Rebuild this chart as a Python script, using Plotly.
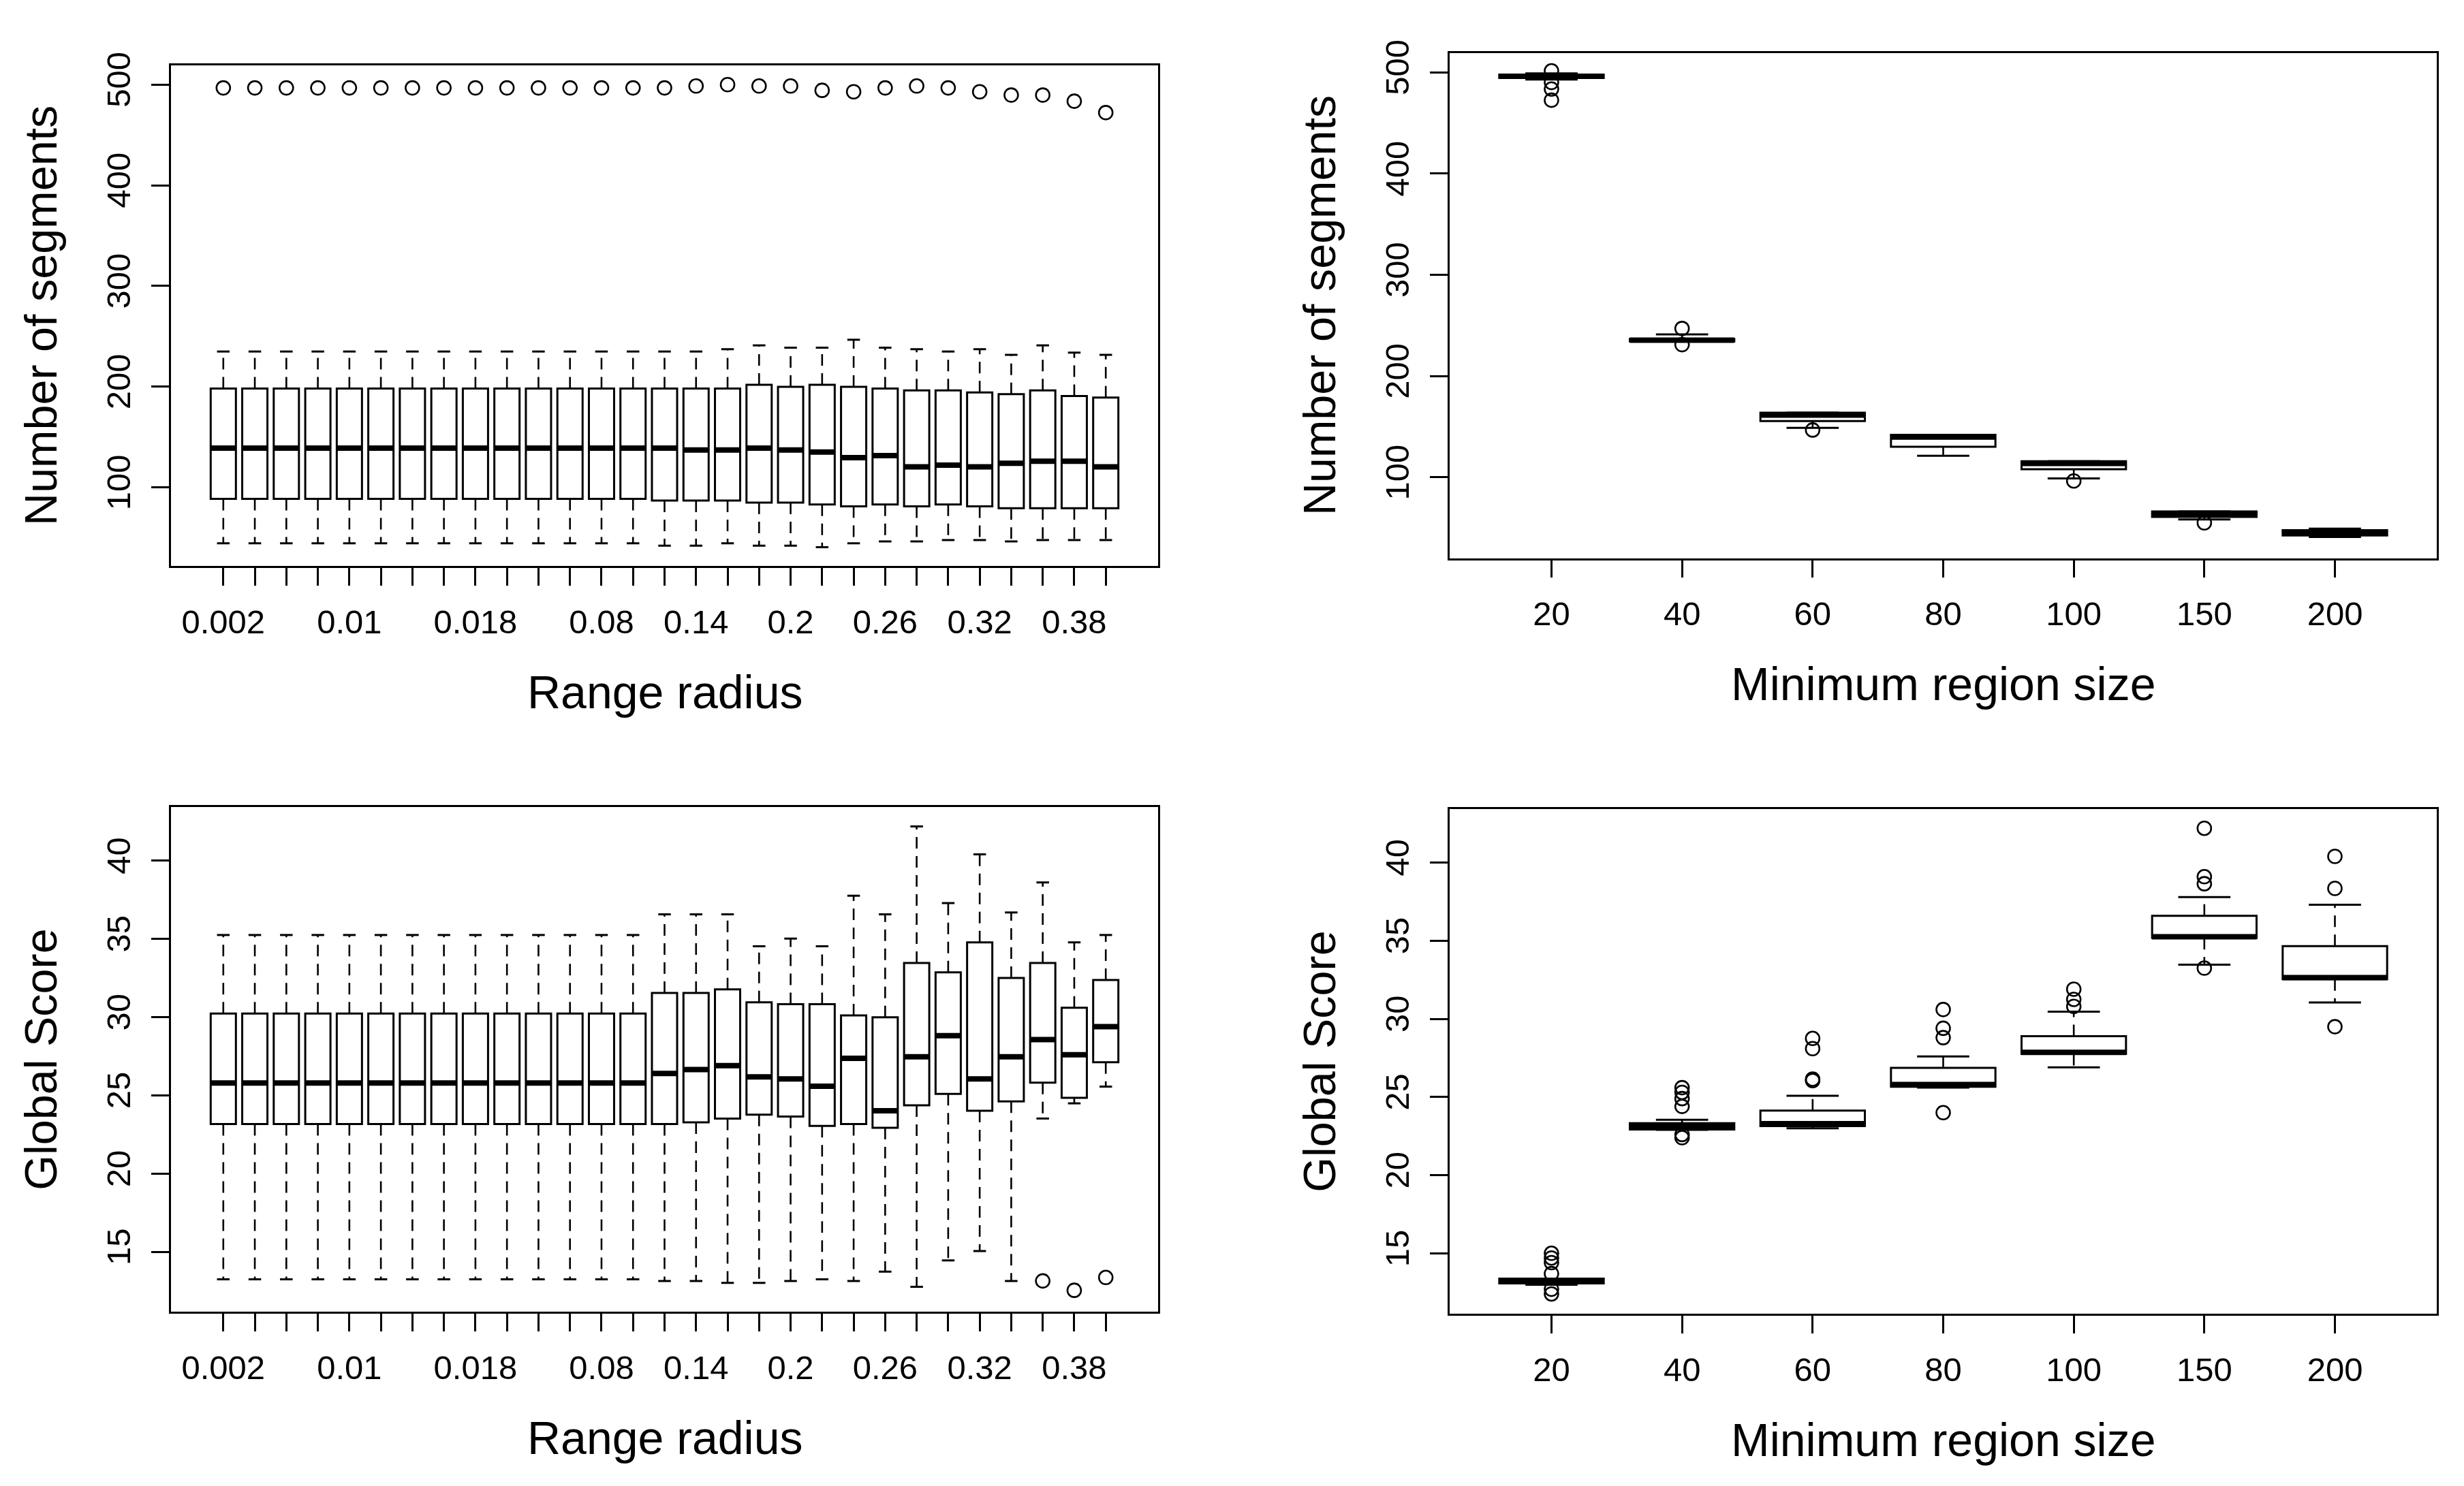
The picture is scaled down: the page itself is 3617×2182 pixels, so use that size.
import plotly.graph_objects as go

# ---------------- Data ----------------
radius_labels = ["0.002", "0.004", "0.006", "0.008", "0.01", "0.012", "0.014", "0.016",
                 "0.018", "0.02", "0.04", "0.06", "0.08", "0.1", "0.12", "0.14", "0.16",
                 "0.18", "0.2", "0.22", "0.24", "0.26", "0.28", "0.3", "0.32", "0.34",
                 "0.36", "0.38", "0.4"]
radius_shown = ["0.002", "0.01", "0.018", "0.08", "0.14", "0.2", "0.26", "0.32", "0.38"]

size_labels = ["20", "40", "60", "80", "100", "150", "200"]

# Number of segments vs range radius
seg_r_lo = [44.4, 44.4, 44.4, 44.4, 44.4, 44.4, 44.4, 44.4, 44.4, 44.4, 44.4, 44.4, 44.4, 44.4,
            42.1, 42.1, 44.4, 42.1, 42.1, 40.6, 44.4, 46.2, 46.2, 47.7, 47.7, 46.2, 47.7, 47.7, 47.7]
seg_r_q1 = [88.6, 88.6, 88.6, 88.6, 88.6, 88.6, 88.6, 88.6, 88.6, 88.6, 88.6, 88.6, 88.6, 88.6,
            86.8, 86.8, 86.8, 84.8, 84.8, 83.0, 81.2, 83.0, 81.2, 83.0, 81.2, 79.2, 79.2, 79.2, 79.2]
seg_r_med = [138.9, 138.9, 138.9, 138.9, 138.9, 138.9, 138.9, 138.9, 138.9, 138.9, 138.9, 138.9,
             138.9, 138.9, 138.9, 137.1, 137.1, 138.9, 137.1, 135.1, 129.5, 131.5, 120.3, 122.1,
             120.3, 123.9, 125.9, 125.9, 120.3]
seg_r_q3 = [198.1, 198.1, 198.1, 198.1, 198.1, 198.1, 198.1, 198.1, 198.1, 198.1, 198.1, 198.1,
            198.1, 198.1, 198.1, 198.1, 198.1, 201.9, 199.9, 201.9, 199.9, 198.1, 196.3, 196.3,
            194.3, 192.5, 196.3, 190.7, 189.1]
seg_r_hi = [234.9, 234.9, 234.9, 234.9, 234.9, 234.9, 234.9, 234.9, 234.9, 234.9, 234.9, 234.9,
            234.9, 234.9, 234.9, 234.9, 237.2, 241.0, 238.7, 238.7, 246.6, 238.7, 237.2, 234.9,
            237.2, 231.6, 241.0, 233.8, 231.6]
seg_r_out = [[496.7], [496.7], [496.7], [496.7], [496.7], [496.7], [496.7], [496.7], [496.7],
             [496.7], [496.7], [496.7], [496.7], [496.7], [496.7], [498.6], [500.0], [498.6],
             [498.6], [494.3], [492.9], [496.7], [498.6], [496.7], [492.9], [489.6], [489.6],
             [483.5], [472.2]]

# Global score vs range radius
sc_r_lo = [13.24, 13.24, 13.24, 13.24, 13.24, 13.24, 13.24, 13.24, 13.24, 13.24, 13.24, 13.24,
           13.24, 13.24, 13.14, 13.14, 13.01, 13.01, 13.14, 13.24, 13.14, 13.73, 12.76, 14.45,
           15.05, 13.14, 23.52, 24.49, 25.56]
sc_r_q1 = [23.17, 23.17, 23.17, 23.17, 23.17, 23.17, 23.17, 23.17, 23.17, 23.17, 23.17, 23.17,
           23.17, 23.17, 23.17, 23.28, 23.52, 23.77, 23.65, 23.05, 23.17, 22.93, 24.37, 25.09,
           24.02, 24.61, 25.81, 24.84, 27.12]
sc_r_med = [25.79, 25.79, 25.79, 25.79, 25.79, 25.79, 25.79, 25.79, 25.79, 25.79, 25.79, 25.79,
            25.79, 25.79, 26.40, 26.65, 26.90, 26.18, 26.05, 25.58, 27.37, 24.02, 27.47, 28.81,
            26.05, 27.47, 28.56, 27.60, 29.39]
sc_r_q3 = [30.23, 30.23, 30.23, 30.23, 30.23, 30.23, 30.23, 30.23, 30.23, 30.23, 30.23, 30.23,
           30.23, 30.23, 31.55, 31.55, 31.78, 30.95, 30.83, 30.83, 30.11, 29.99, 33.46, 32.86,
           34.78, 32.50, 33.46, 30.60, 32.37]
sc_r_hi = [35.25, 35.25, 35.25, 35.25, 35.25, 35.25, 35.25, 35.25, 35.25, 35.25, 35.25, 35.25,
           35.25, 35.25, 36.57, 36.57, 36.57, 34.53, 35.02, 34.53, 37.76, 36.57, 42.19, 37.29,
           40.40, 36.69, 38.61, 34.78, 35.25]
sc_r_out = [[], [], [], [], [], [], [], [], [], [], [], [], [], [], [], [], [], [], [], [], [],
            [], [], [], [], [], [13.14], [12.54], [13.36]]

# Number of segments vs minimum region size
seg_m_lo = [493.0, 234.2, 148.9, 121.2, 98.9, 58.3, 41.0]
seg_m_q1 = [494.5, 234.2, 155.6, 130.2, 107.9, 60.8, 42.6]
seg_m_med = [496.2, 235.5, 161.5, 139.7, 113.6, 64.0, 45.2]
seg_m_q3 = [497.8, 236.6, 163.8, 141.9, 115.8, 66.2, 47.7]
seg_m_hi = [499.0, 241.2, 163.8, 141.9, 115.8, 66.2, 49.3]
seg_m_out = [[501.5, 490.0, 483.5, 472.5], [247.0, 231.0], [146.7], [], [96.4], [55.0], []]

# Global score vs minimum region size
sc_m_lo = [12.99, 22.90, 23.00, 25.60, 26.90, 33.47, 31.05]
sc_m_q1 = [13.07, 22.92, 23.14, 25.66, 27.76, 35.18, 32.54]
sc_m_med = [13.22, 23.13, 23.29, 25.80, 27.86, 35.26, 32.64]
sc_m_q3 = [13.38, 23.33, 24.13, 26.87, 28.89, 36.60, 34.66]
sc_m_hi = [13.38, 23.54, 25.08, 27.60, 30.46, 37.79, 37.30]
sc_m_out = [[15.0, 14.7, 14.4, 13.7, 12.7, 12.4], [25.6, 25.3, 24.9, 24.4, 22.6, 22.4],
            [28.75, 28.1, 26.15, 26.05], [30.6, 29.4, 28.8, 24.0], [31.9, 31.25, 30.8],
            [42.2, 39.1, 38.65, 33.25], [40.4, 38.35, 29.5]]

seg_ticks = [100, 200, 300, 400, 500]
score_ticks = [15, 20, 25, 30, 35, 40]

# ---------------- Styling ----------------
W, H = 3617, 2182
FONT = "Liberation Sans, Arial, sans-serif"
BOXW = 0.8
CAPW = 0.4
LW = 3


def px_x(p):
    return p / W


def px_y(p):
    return 1 - p / H


fig = go.Figure()


def add_panel(k, labels, lo, q1, med, q3, hi, outs):
    xr = "x" if k == 1 else "x%d" % k
    yr = "y" if k == 1 else "y%d" % k
    pos = list(range(len(labels)))
    wx, wy = [], []
    cx, cy = [], []
    mx, my = [], []
    ox, oy = [], []
    for i in pos:
        if hi[i] > q3[i]:
            wx += [i, i, None]
            wy += [q3[i], hi[i], None]
        if lo[i] < q1[i]:
            wx += [i, i, None]
            wy += [q1[i], lo[i], None]
        cx += [i - CAPW / 2, i + CAPW / 2, None, i - CAPW / 2, i + CAPW / 2, None]
        cy += [hi[i], hi[i], None, lo[i], lo[i], None]
        mx += [i - BOXW / 2, i + BOXW / 2, None]
        my += [med[i], med[i], None]
        for v in outs[i]:
            ox.append(i)
            oy.append(v)
    fig.add_trace(go.Scatter(x=wx, y=wy, mode="lines", xaxis=xr, yaxis=yr,
                             line=dict(color="black", width=2.6, dash="17px,11px"),
                             hoverinfo="skip", showlegend=False))
    fig.add_trace(go.Scatter(x=cx, y=cy, mode="lines", xaxis=xr, yaxis=yr,
                             line=dict(color="black", width=LW),
                             hoverinfo="skip", showlegend=False))
    fig.add_trace(go.Box(x=pos, q1=q1, median=med, q3=q3, lowerfence=q1, upperfence=q3,
                         xaxis=xr, yaxis=yr, width=BOXW, whiskerwidth=0,
                         fillcolor="white", line=dict(color="black", width=LW),
                         boxpoints=False, showlegend=False, hoverinfo="skip"))
    fig.add_trace(go.Scatter(x=mx, y=my, mode="lines", xaxis=xr, yaxis=yr,
                             line=dict(color="black", width=8),
                             hoverinfo="skip", showlegend=False))
    fig.add_trace(go.Scatter(x=ox, y=oy, mode="markers", xaxis=xr, yaxis=yr,
                             marker=dict(symbol="circle-open", size=20, color="black",
                                         line=dict(width=2.6, color="black")),
                             hoverinfo="skip", showlegend=False))


add_panel(1, radius_labels, seg_r_lo, seg_r_q1, seg_r_med, seg_r_q3, seg_r_hi, seg_r_out)
add_panel(2, size_labels, seg_m_lo, seg_m_q1, seg_m_med, seg_m_q3, seg_m_hi, seg_m_out)
add_panel(3, radius_labels, sc_r_lo, sc_r_q1, sc_r_med, sc_r_q3, sc_r_hi, sc_r_out)
add_panel(4, size_labels, sc_m_lo, sc_m_q1, sc_m_med, sc_m_q3, sc_m_hi, sc_m_out)

common = dict(showline=True, mirror=True, linecolor="black", linewidth=2.6,
              showgrid=False, zeroline=False, ticks="outside", ticklen=26,
              tickwidth=2.6, tickcolor="black",
              tickfont=dict(family=FONT, size=49, color="black"))

radius_text = [l if l in radius_shown else "" for l in radius_labels]

# panel pixel boxes: (left, right, top, bottom)
boxes = {1: (251, 1700, 77, 819), 2: (2128, 3577, 59, 807),
         3: (251, 1700, 1176, 1924), 4: (2128, 3577, 1179, 1927)}
xranges = {1: [-1.66, 29.66], 2: [-0.78, 6.78], 3: [-1.66, 29.66], 4: [-0.78, 6.78]}
yranges = {1: [21.6, 518.9], 2: [20.1, 518.7], 3: [11.16, 43.42], 4: [11.12, 43.42]}
xtext = {1: (list(range(len(radius_labels))), radius_text),
         2: (list(range(len(size_labels))), size_labels),
         3: (list(range(len(radius_labels))), radius_text),
         4: (list(range(len(size_labels))), size_labels)}
yticks = {1: seg_ticks, 2: seg_ticks, 3: score_ticks, 4: score_ticks}

lay = {}
for k in (1, 2, 3, 4):
    l, r, t, b = boxes[k]
    xn = "xaxis" if k == 1 else "xaxis%d" % k
    yn = "yaxis" if k == 1 else "yaxis%d" % k
    xa = "x" if k == 1 else "x%d" % k
    ya = "y" if k == 1 else "y%d" % k
    lay[xn] = dict(common, domain=[px_x(l), px_x(r)], range=xranges[k], anchor=ya,
                   tickmode="array", tickvals=xtext[k][0], ticktext=xtext[k][1],
                   ticklabelstandoff=11)
    lay[yn] = dict(common, domain=[px_y(b), px_y(t)], range=yranges[k], anchor=xa,
                   tickmode="array", tickvals=yticks[k], tickangle=-90,
                   ticklabelstandoff=12)

ann = []
titles = {1: ("Range radius", "Number of segments"),
          2: ("Minimum region size", "Number of segments"),
          3: ("Range radius", "Global Score"),
          4: ("Minimum region size", "Global Score")}
for k in (1, 2, 3, 4):
    l, r, t, b = boxes[k]
    xt, yt = titles[k]
    ann.append(dict(text=xt, xref="paper", yref="paper", x=px_x((l + r) / 2),
                    y=px_y(b + 186), xanchor="center", yanchor="middle", showarrow=False,
                    font=dict(family=FONT, size=68, color="black")))
    ann.append(dict(text=yt, xref="paper", yref="paper", x=px_x(l - 191),
                    y=px_y((t + b) / 2), xanchor="center", yanchor="middle",
                    textangle=-90, showarrow=False,
                    font=dict(family=FONT, size=66.5, color="black")))

fig.update_layout(width=W, height=H, margin=dict(l=0, r=0, t=0, b=0),
                  paper_bgcolor="white", plot_bgcolor="white",
                  showlegend=False, annotations=ann, **lay)

fig.write_html("out.html", config={"displayModeBar": False},
               post_script="document.body.style.margin='0px';"
                           "document.body.style.overflow='hidden';")
